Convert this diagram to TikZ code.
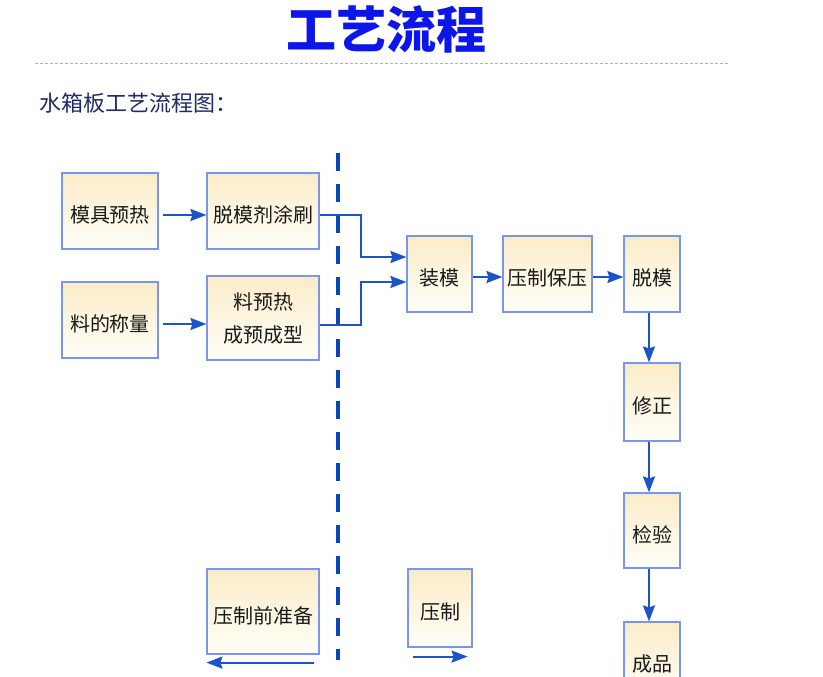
\documentclass[tikz,border=0pt]{standalone}
\usepackage{fontspec}
\newfontfamily\cjk{Noto Sans CJK SC}
\usetikzlibrary{arrows.meta}
\definecolor{boxline}{RGB}{120,150,240}
\definecolor{boxtop}{RGB}{251,236,200}
\definecolor{boxbot}{RGB}{255,254,248}
\definecolor{arrblue}{RGB}{28,84,200}
\definecolor{dashblue}{RGB}{10,70,185}
\definecolor{titleblue}{RGB}{12,22,232}
\definecolor{subnavy}{RGB}{30,44,100}
\tikzset{
  basebox/.style={draw=boxline, line width=1.2pt, top color=boxtop, bottom color=boxbot,
    inner sep=0pt, font=\cjk\fontsize{20}{33}\selectfont, text=black!90, align=center},
  stepbox/.style={basebox, text height=25pt, text depth=2pt},
  arr/.style={draw=arrblue, line width=2pt, -{Stealth[length=16pt,width=12pt,inset=2pt]}},
  divline/.style={draw=dashblue, line width=4.5pt, dash pattern=on 18pt off 13pt},
}
\begin{document}
\begin{tikzpicture}[x=1pt,y=-1pt]
\useasboundingbox (0,0) rectangle (823,677);
\clip (0,0) rectangle (823,677);
% title
\node[font=\cjk\bfseries\fontsize{50}{54}\selectfont, text=titleblue] (title) at (386,29) {工艺流程};
\coordinate (gl) at (35,63);
\coordinate (gr) at (728,63);
\draw[gray!60, line width=0.8pt, dash pattern=on 3pt off 2pt] (gl) -- (gr);
\node[font=\cjk\fontsize{22}{26}\selectfont, text=subnavy, anchor=west] (sub) at (36,103) {水箱板工艺流程图：};
% left boxes
\node[stepbox, minimum width=96, minimum height=76] (m1) at (110,211) {模具预热};
\node[stepbox, minimum width=112, minimum height=76] (b2) at (263,211) {脱模剂涂刷};
\node[stepbox, minimum width=96, minimum height=76] (m3) at (110,320) {料的称量};
\node[basebox, minimum width=112, minimum height=84] (b4) at (263,318) {料预热\\成预成型};
% middle / right row
\node[stepbox, minimum width=65, minimum height=76] (zm) at (439.5,274) {装模};
\node[stepbox, minimum width=89, minimum height=76] (yz) at (547.5,274) {压制保压};
\node[stepbox, minimum width=56, minimum height=76] (tm) at (652,274) {脱模};
\node[stepbox, minimum width=56, minimum height=78] (xz) at (652,402) {修正};
\node[stepbox, minimum width=56, minimum height=75] (jy) at (652,530.5) {检验};
\node[stepbox, minimum width=56, minimum height=76] (cp) at (652,660) {成品};
% bottom legend boxes
\node[stepbox, minimum width=112, minimum height=85] (pq) at (263,611.5) {压制前准备};
\node[stepbox, minimum width=64, minimum height=78] (pz) at (440,608) {压制};
% divider
\coordinate (dt) at (338,153);
\coordinate (db) at (338,660);
\draw[divline] (dt) -- (db);
% connectors
\draw[arr] ([xshift=4pt,yshift=-4pt]m1.east) -- ([yshift=-4pt]b2.west);
\draw[arr] ([xshift=4pt,yshift=-4pt]m3.east) -- ([yshift=-6pt]b4.west);
\draw[arr] ([yshift=-4pt]b2.east) -- ++(41,0) |- ([yshift=17pt]zm.west);
\draw[arr] ([yshift=-7pt]b4.east) -- ++(41,0) |- ([yshift=-8pt]zm.west);
\draw[arr] ([yshift=-3pt]zm.east) -- ([yshift=-3pt]yz.west);
\draw[arr] ([yshift=-3pt]yz.east) -- ([yshift=-3pt]tm.west);
\draw[arr] ([xshift=-3pt]tm.south) -- ([xshift=-3pt]xz.north);
\draw[arr] ([xshift=-3pt]xz.south) -- ([xshift=-3pt]jy.north);
\draw[arr] ([xshift=-3pt]jy.south) -- ([xshift=-3pt]cp.north);
\draw[arr] ([xshift=-6pt,yshift=-8pt]pq.south east) -- ([yshift=-8pt]pq.south west);
\draw[arr] ([xshift=6pt,yshift=-9pt]pz.south west) -- ([xshift=-5pt,yshift=-9pt]pz.south east);
\end{tikzpicture}
\end{document}
